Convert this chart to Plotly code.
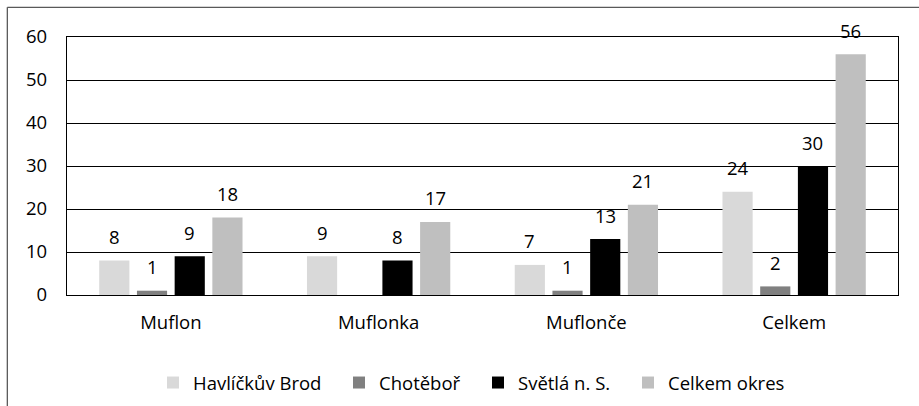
import plotly.graph_objects as go

categories = ["Muflon", "Muflonka", "Muflonče", "Celkem"]
series_names = ["Havlíčkův Brod", "Chotěboř", "Světlá n. S.", "Celkem okres"]
havlickuv_brod = [8, 9, 7, 24]
chotebor = [1, None, 1, 2]
svetla = [9, 8, 13, 30]
celkem_okres = [18, 17, 21, 56]
y_ticks = [0, 10, 20, 30, 40, 50, 60]

series_values = [havlickuv_brod, chotebor, svetla, celkem_okres]
colors = ["#d9d9d9", "#808080", "#000000", "#bfbfbf"]
legend_ids = ["legend", "legend2", "legend3", "legend4"]
legend_x_px = [153, 339, 478, 628]  # left edge of each legend entry

FONT = "Open Sans, sans-serif"
FS = 18.5
BARGAP = 0.274
BARGROUPGAP = 0.2
W, H = 919, 406

fig = go.Figure()
for name, vals, col, lid in zip(series_names, series_values, colors, legend_ids):
    fig.add_trace(go.Bar(
        x=categories, y=[v if v is not None else 0 for v in vals], name=name,
        marker=dict(color=col, line=dict(width=0)), legend=lid,
    ))

n = len(series_values)
slot = (1 - BARGAP) / n
annotations = []
for i, vals in enumerate(series_values):
    for j, v in enumerate(vals):
        if v is None:
            continue
        annotations.append(dict(
            x=j + (i - (n - 1) / 2) * slot, y=v, xref="x", yref="y",
            text=str(v), showarrow=False, yanchor="middle", yshift=24,
            font=dict(family=FONT, size=FS, color="#000000"),
        ))

# outer chart frame (top and left edges visible)
shapes = [
    dict(type="line", xref="paper", yref="paper", x0=-0.0718, x1=1.1, y0=1.115, y1=1.115,
         line=dict(color="#595959", width=1.3)),
    dict(type="line", xref="paper", yref="paper", x0=-0.0718, x1=-0.0718, y0=1.115, y1=-0.5,
         line=dict(color="#595959", width=1.3)),
]

legend_layout = {}
for lid, lx in zip(legend_ids, legend_x_px):
    legend_layout[lid] = dict(
        orientation="h", xref="container", yref="container",
        x=lx / W, xanchor="left", y=1 - 383 / H, yanchor="middle",
        font=dict(family=FONT, size=FS, color="#000000"),
        bgcolor="rgba(0,0,0,0)", borderwidth=0,
    )

fig.update_layout(
    width=W, height=H,
    margin=dict(l=67, r=21, t=37, b=111, autoexpand=False),
    paper_bgcolor="white", plot_bgcolor="white",
    barmode="group", bargap=BARGAP, bargroupgap=BARGROUPGAP,
    font=dict(family=FONT, size=FS, color="#000000"),
    annotations=annotations,
    shapes=shapes,
    showlegend=True,
    xaxis=dict(showline=True, mirror=True, linecolor="#000000", linewidth=1.3,
               ticks="", showgrid=False, tickfont=dict(size=FS), ticklabelstandoff=11),
    yaxis=dict(range=[0, 60], tickvals=y_ticks, showgrid=True, gridcolor="#000000", gridwidth=1.2,
               showline=True, mirror=True, linecolor="#000000", linewidth=1.3,
               ticks="", zeroline=False, tickfont=dict(size=FS), ticklabelstandoff=15),
    **legend_layout,
)

fig.write_html("out.html", config={"displayModeBar": False},
               post_script="document.body.style.margin='0';document.body.style.overflow='hidden';")
